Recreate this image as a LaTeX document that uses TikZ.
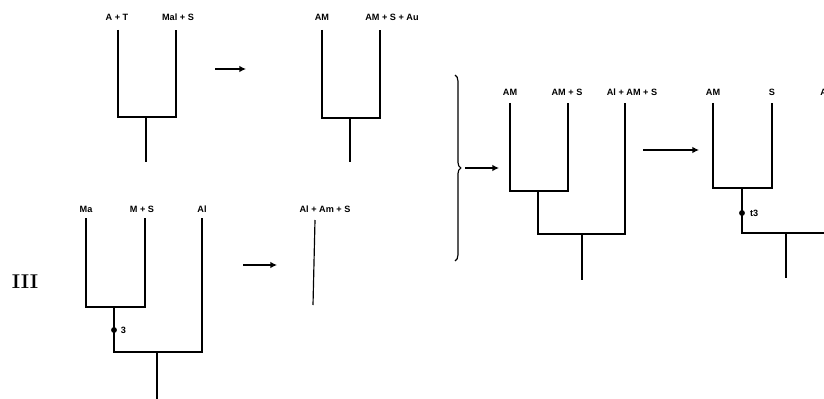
\documentclass[tikz,border=0pt]{standalone}
\usepackage{fontspec}
\setsansfont{Liberation Sans}
\usetikzlibrary{
    positioning,
    arrows.meta,
    decorations.pathreplacing
}

\tikzset{
    leaf/.style={font=\sffamily\bfseries\fontsize{7.8}{8}\selectfont, inner sep=1pt},
    branch/.style={line width=1pt},
    goes/.style={-{Latex[length=2mm,width=2mm]}, line width=1.2pt},
    knot/.style={circle, fill=black, inner sep=0pt, minimum size=5pt}
}

\begin{document}
\begin{tikzpicture}[x=0.03cm, y=-0.03cm]
    \useasboundingbox (0,0) rectangle (824,399);
    \clip (0,0) rectangle (824,399);

    % first tree, top left
    \node[leaf] (lab1a) at (117,17) {A + T};
    \node[leaf] (lab1b) at (178,17) {Mal + S};
    \coordinate (t1a) at (118,30);
    \coordinate (t1b) at (176,30);
    \coordinate (t1j) at (146,117);
    \coordinate (t1r) at (146,162);
    \draw[branch] (t1a) |- (t1j) -| (t1b);
    \draw[branch] (t1j) -- (t1r);

    \coordinate (ar1s) at (215,69);
    \coordinate (ar1e) at (246,69);
    \draw[goes] (ar1s) -- (ar1e);

    % second tree, top
    \node[leaf] (lab2a) at (322,17) {AM};
    \node[leaf] (lab2b) at (392,17) {AM + S + Au};
    \coordinate (t2a) at (322,30);
    \coordinate (t2b) at (380,30);
    \coordinate (t2j) at (350,118);
    \coordinate (t2r) at (350,162);
    \draw[branch] (t2a) |- (t2j) -| (t2b);
    \draw[branch] (t2j) -- (t2r);

    % bottom left tree
    \node[font=\rmfamily\bfseries\fontsize{17}{18}\selectfont] (roman) at (25,282) {III};
    \node[leaf] (lab3a) at (86,209) {Ma};
    \node[leaf] (lab3b) at (142,209) {M + S};
    \node[leaf] (lab3c) at (202,209) {Al};
    \coordinate (t3a) at (86,218);
    \coordinate (t3b) at (145,218);
    \coordinate (t3c) at (202,218);
    \coordinate (t3j) at (114,307);
    \coordinate (t3k) at (114,352);
    \coordinate (t3m) at (157,352);
    \coordinate (t3r) at (157,399);
    \draw[branch] (t3a) |- (t3j) -| (t3b);
    \draw[branch] (t3j) -- (t3k) -| (t3c);
    \draw[branch] (t3m) -- (t3r);
    \node[knot] (dot3) at (114,330) {};
    \node[leaf, right=2pt of dot3] (num3) {3};

    \coordinate (ar3s) at (243,265);
    \coordinate (ar3e) at (277,265);
    \draw[goes] (ar3s) -- (ar3e);

    \node[leaf] (lab4) at (325,209) {Al + Am + S};
    \coordinate (t4a) at (315,220);
    \coordinate (t4r) at (313,305);
    \draw[branch] (t4a) -- (t4r);

    % brace
    \coordinate (brtop) at (455,75);
    \coordinate (brbot) at (455,261);
    \draw[line width=1pt, decorate, decoration={brace, amplitude=5pt}] (brtop) -- (brbot);
    \coordinate (ar5s) at (465,168);
    \coordinate (ar5e) at (499,168);
    \draw[goes] (ar5s) -- (ar5e);

    % third tree, right
    \node[leaf] (lab5a) at (510,92) {AM};
    \node[leaf] (lab5b) at (567,92) {AM + S};
    \node[leaf] (lab5c) at (632,92) {Al + AM + S};
    \coordinate (t5a) at (510,103);
    \coordinate (t5b) at (568,103);
    \coordinate (t5c) at (625,103);
    \coordinate (t5j) at (538,191);
    \coordinate (t5k) at (538,234);
    \coordinate (t5m) at (582,234);
    \coordinate (t5r) at (582,280);
    \draw[branch] (t5a) |- (t5j) -| (t5b);
    \draw[branch] (t5j) -- (t5k) -| (t5c);
    \draw[branch] (t5m) -- (t5r);

    \coordinate (ar6s) at (643,150);
    \coordinate (ar6e) at (699,150);
    \draw[goes] (ar6s) -- (ar6e);

    % fourth tree, cut at the right edge
    \node[leaf] (lab6a) at (713,92) {AM};
    \node[leaf] (lab6b) at (772,92) {S};
    \node[leaf, anchor=west] (lab6c) at (819,92) {A};
    \coordinate (t6a) at (713,103);
    \coordinate (t6b) at (772,103);
    \coordinate (t6c) at (834,103);
    \coordinate (t6j) at (742,188);
    \coordinate (t6k) at (742,233);
    \coordinate (t6m) at (786,233);
    \coordinate (t6r) at (786,278);
    \draw[branch] (t6a) |- (t6j) -| (t6b);
    \draw[branch] (t6j) -- (t6k) -| (t6c);
    \draw[branch] (t6m) -- (t6r);
    \node[knot] (dot6) at (742,213) {};
    \node[leaf, right=3pt of dot6] (num6) {t3};
\end{tikzpicture}
\end{document}
